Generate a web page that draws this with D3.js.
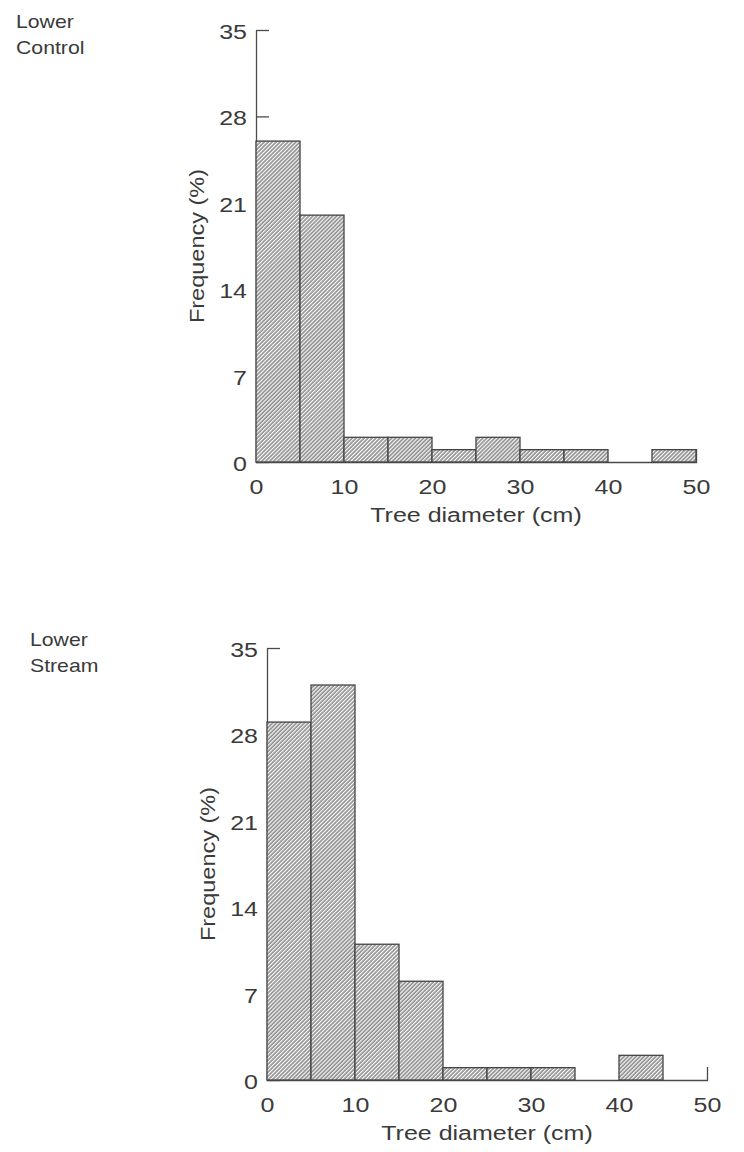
<!DOCTYPE html>
<html>
<head>
<meta charset="utf-8">
<script src="https://cdn.jsdelivr.net/npm/d3@7"></script>
<style>
    body { margin: 0; background: #fff; }
    text { font-family: "Liberation Sans", Arial, sans-serif; fill: #3a3a3a; }
</style>
</head>
<body>
<div id="chart"></div>
<script>

// tree diameter bins (cm)
var binEdges = [ 0, 5, 10, 15, 20, 25, 30, 35, 40, 45, 50 ];

// frequency (%) per bin
var controlFreq = [ 26, 20, 2, 2, 1, 2, 1, 1, 0, 1 ];
var streamFreq = [ 29, 32, 11, 8, 1, 1, 1, 0, 2, 0 ];

var yTicks = [ 0, 7, 14, 21, 28, 35 ];
var xTicks = [ 0, 10, 20, 30, 40, 50 ];

var panelNames = [ [ 'Lower', 'Control' ], [ 'Lower', 'Stream' ] ];

var width = 744,
    height = 1152,
    sx = 1.25; // the printed type is wide

var svg = d3.select('#chart').append('svg')
    .attr('width', width)
    .attr('height', height);

// hatching
var defs = svg.append('defs');

var pattern = defs.append('pattern')
    .attr('id', 'hatch')
    .attr('patternUnits', 'userSpaceOnUse')
    .attr('width', 2.8)
    .attr('height', 2.8)
    .attr('patternTransform', 'rotate(45)');

pattern.append('rect')
    .attr('width', 2.8)
    .attr('height', 2.8)
    .attr('fill', '#fff');

pattern.append('line')
    .attr('x1', 1).attr('y1', 0)
    .attr('x2', 1).attr('y2', 2.8)
    .attr('stroke', '#4e4e4e')
    .attr('stroke-width', 1.05);

function drawPanel ( freq, names, left, top, labelX ) {

    var plotW = 440,
        plotH = 432;

    var x = d3.scaleLinear()
        .domain([ 0, 50 ])
        .range([ 0, plotW ]);

    var y = d3.scaleLinear()
        .domain([ 0, 35 ])
        .range([ plotH, 0 ]);

    var g = svg.append('g')
        .attr('transform', 'translate(' + left + ',' + top + ')');

    // y axis, ticks point inwards
    var yAxis = g.append('g')
        .call( d3.axisLeft( y )
            .tickValues( yTicks )
            .tickSizeInner( -13 )
            .tickSizeOuter( 0 )
            .tickPadding( 9 ) );

    // x axis, end ticks point up
    var xAxis = g.append('g')
        .attr('transform', 'translate(0,' + plotH + ')')
        .call( d3.axisBottom( x )
            .tickValues( xTicks )
            .tickSizeInner( 0 )
            .tickSizeOuter( -13 )
            .tickPadding( 18 ) );

    [ yAxis, xAxis ].forEach( function ( ax ) {
        ax.attr('font-size', 20).attr('font-family', null);
        ax.selectAll('path, line')
            .attr('stroke', '#4a4a4a')
            .attr('stroke-width', 1.3);
    });

    yAxis.selectAll('.tick text')
        .attr('x', -9 / sx)
        .attr('dy', '0.42em')
        .attr('transform', 'scale(' + sx + ',1)');

    xAxis.selectAll('.tick text')
        .attr('transform', 'scale(' + sx + ',1)');

    // bars
    var bins = freq.map( function ( f, i ) {
        return { x0: binEdges[ i ], x1: binEdges[ i + 1 ], value: f };
    }).filter( function ( d ) { return d.value > 0 });

    g.selectAll('.bar')
        .data( bins )
        .enter().append('rect')
        .attr('class', 'bar')
        .attr('x', function ( d ) { return x( d.x0 ) })
        .attr('y', function ( d ) { return y( d.value ) })
        .attr('width', function ( d ) { return x( d.x1 ) - x( d.x0 ) })
        .attr('height', function ( d ) { return y( 0 ) - y( d.value ) })
        .attr('fill', 'url(#hatch)')
        .attr('stroke', '#444')
        .attr('stroke-width', 1.3);

    // axis titles
    g.append('text')
        .attr('transform', 'translate(' + plotW / 2 + ',' + ( plotH + 60 ) + ') scale(' + sx + ',1)')
        .attr('text-anchor', 'middle')
        .attr('font-size', 20)
        .text('Tree diameter (cm)');

    g.append('text')
        .attr('transform', 'translate(-52,' + plotH / 2 + ') rotate(-90) scale(1.12,1)')
        .attr('text-anchor', 'middle')
        .attr('font-size', 21)
        .text('Frequency (%)');

    // panel name
    var label = svg.append('text')
        .attr('transform', 'translate(' + labelX + ',' + ( top - 2 ) + ') scale(1.18,1)')
        .attr('font-size', 18);

    label.selectAll('tspan')
        .data( names )
        .enter().append('tspan')
        .attr('x', 0)
        .attr('dy', function ( d, i ) { return i ? 26 : 0 })
        .text( function ( d ) { return d });

}

drawPanel( controlFreq, panelNames[ 0 ], 256, 30, 16 );
drawPanel( streamFreq, panelNames[ 1 ], 267, 648, 30 );

</script>
</body>
</html>
